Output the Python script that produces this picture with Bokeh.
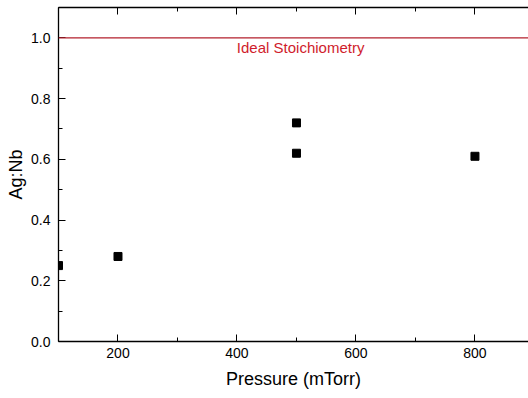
from bokeh.plotting import figure
from bokeh.models import Span, Label, LinearAxis, FixedTicker, Range1d, PrintfTickFormatter
from bokeh.embed import file_html
from bokeh.resources import INLINE

# Data
pressure = [100, 200, 500, 500, 800]
ag_nb = [0.25, 0.28, 0.72, 0.62, 0.61]
ideal_ratio = 1.0
ideal_label = "Ideal Stoichiometry"
x_ticks = [200, 400, 600, 800]
x_minor = [100, 300, 500, 700]
y_ticks = [0.0, 0.2, 0.4, 0.6, 0.8, 1.0]
y_minor = [0.1, 0.3, 0.5, 0.7, 0.9, 1.1]

FONT = "Liberation Sans"

p = figure(width=528, height=398, output_backend="svg", toolbar_location=None,
           x_range=Range1d(100, 890), y_range=Range1d(0, 1.1),
           min_border_left=58, min_border_right=0, min_border_top=7, min_border_bottom=57)
p.outline_line_color = None
p.grid.visible = False
p.background_fill_color = "white"
p.border_fill_color = "white"

def style_axis(ax):
    ax.axis_line_color = "black"
    ax.axis_line_width = 1.3
    ax.major_tick_in = 7
    ax.major_tick_out = 0
    ax.minor_tick_in = 4
    ax.minor_tick_out = 0
    ax.major_tick_line_color = "black"
    ax.minor_tick_line_color = "black"
    ax.major_label_text_font = FONT
    ax.major_label_text_font_size = "14px"
    ax.major_label_text_color = "black"
    ax.axis_label_text_font = FONT
    ax.axis_label_text_font_size = "18px"
    ax.axis_label_text_font_style = "normal"
    ax.axis_label_text_color = "black"

p.xaxis.ticker = FixedTicker(ticks=x_ticks, minor_ticks=x_minor)
p.yaxis.ticker = FixedTicker(ticks=y_ticks, minor_ticks=y_minor)
p.yaxis.formatter = PrintfTickFormatter(format="%.1f")
p.xaxis.axis_label = "Pressure (mTorr)"
p.yaxis.axis_label = "Ag:Nb"
style_axis(p.xaxis[0])
style_axis(p.yaxis[0])
p.xaxis.major_label_standoff = 6
p.yaxis.major_label_standoff = 8
p.xaxis.axis_label_standoff = 8
p.yaxis.axis_label_standoff = 2

top = LinearAxis(ticker=FixedTicker(ticks=x_ticks, minor_ticks=x_minor))
style_axis(top)
top.major_label_overrides = {t: "" for t in x_ticks}
top.major_label_standoff = 0
p.add_layout(top, "above")

span = Span(location=ideal_ratio, dimension="width", line_color="#b3202c", line_width=1.2)
p.add_layout(span)
lab = Label(x=507, y=ideal_ratio - 0.033, text=ideal_label, text_align="center",
            text_baseline="middle", text_font=FONT, text_font_size="15px",
            text_color="#d01c2c")
p.add_layout(lab)

p.scatter(pressure, ag_nb, marker="square", size=8, color="black")

open("out.html", "w").write(file_html(p, INLINE))
